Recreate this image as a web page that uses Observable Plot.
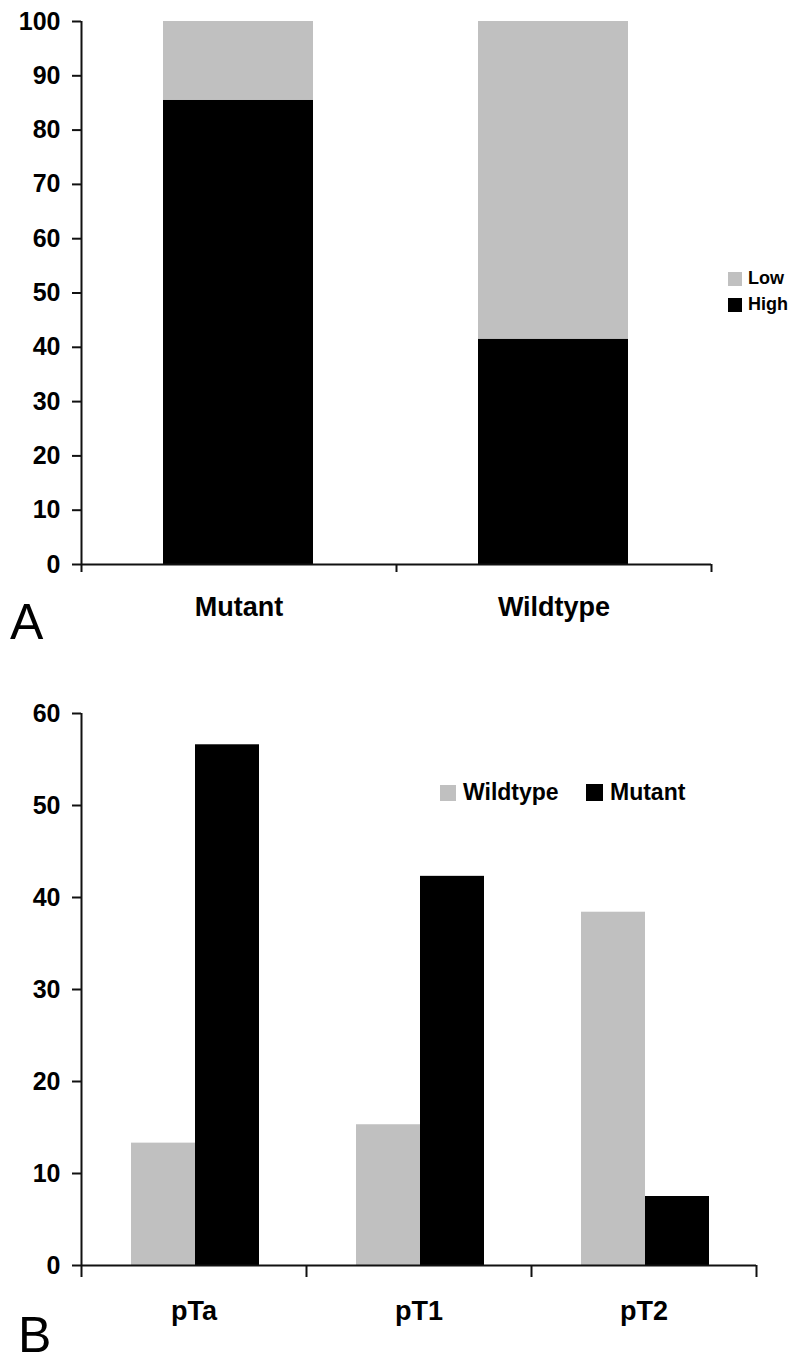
<!DOCTYPE html>
<html>
<head>
<meta charset="utf-8">
<script src="https://cdn.jsdelivr.net/npm/d3@7"></script>
<script src="https://cdn.jsdelivr.net/npm/@observablehq/plot@0.6"></script>
<style>
  body { margin: 0; background: #fff; }
  #wrap { position: relative; width: 800px; height: 1372px; font-family: "Liberation Sans", Arial, sans-serif; }
  #wrap svg { display: block; }
  .lg { position: absolute; display: flex; align-items: center; font-weight: bold; color: #000; white-space: nowrap; }
  .sw { display: inline-block; }
  .letter { position: absolute; font-size: 50px; line-height: 1; color: #000; }
</style>
</head>
<body>
<div id="wrap"></div>
<script>
// Panel A data (percent)
const catsA = ["Mutant", "Wildtype"];
const highA = [85.5, 41.5];
const lowA = [14.5, 58.5];
const ticksA = [0, 10, 20, 30, 40, 50, 60, 70, 80, 90, 100];
const seriesA = ["Low", "High"];

// Panel B data (percent)
const stagesB = ["pTa", "pT1", "pT2"];
const wildB = [13.3, 15.3, 38.4];
const mutB = [56.6, 42.3, 7.5];
const ticksB = [0, 10, 20, 30, 40, 50, 60];
const seriesB = ["Wildtype", "Mutant"];

const GREY = "#c0c0c0", BLACK = "#000000";
const font = {fontFamily: "'Liberation Sans', Arial, sans-serif", fontSize: "25px", fontWeight: "bold", background: "#fff", color: "#000", overflow: "visible"};

const rowsA = catsA.map((c, i) => ({i, cat: c, high: highA[i], low: lowA[i]}));
const rowsB = stagesB.map((s, i) => ({i, stage: s, wild: wildB[i], mut: mutB[i]}));

const wrap = document.getElementById("wrap");

const plotA = Plot.plot({
  width: 800, height: 660,
  marginLeft: 81, marginRight: 89, marginTop: 21, marginBottom: 96,
  style: font,
  x: {type: "linear", domain: [0, catsA.length]},
  y: {domain: [0, 100]},
  marks: [
    Plot.rectY(rowsA, {x1: d => d.i, x2: d => d.i + 1, y1: 0, y2: "high", fill: BLACK, insetLeft: 82, insetRight: 83}),
    Plot.rectY(rowsA, {x1: d => d.i, x2: d => d.i + 1, y1: "high", y2: d => d.high + d.low, fill: GREY, insetLeft: 82, insetRight: 83}),
    Plot.ruleY([0], {stroke: "#111", strokeWidth: 2}),
    Plot.ruleX([0], {y1: 0, y2: 100, stroke: "#111", strokeWidth: 2}),
    Plot.axisY({ticks: ticksA, tickSize: 9, tickPadding: 12, fontSize: 25, strokeWidth: 2, stroke: "#111", label: null}),
    Plot.axisX({ticks: d3.range(0, catsA.length + 1), tickSize: 8, tickFormat: () => "", strokeWidth: 2, stroke: "#111", label: null}),
    Plot.axisX({ticks: catsA.map((c, i) => i + 0.5), tickSize: 0, tickPadding: 32, fontSize: 27, tickFormat: d => catsA[Math.floor(d)], label: null})
  ]
});
wrap.appendChild(plotA);

const plotB = Plot.plot({
  width: 800, height: 712,
  marginLeft: 81, marginRight: 44, marginTop: 53, marginBottom: 107,
  style: font,
  x: {type: "linear", domain: [0, stagesB.length]},
  y: {domain: [0, 60]},
  marks: [
    Plot.rectY(rowsB, {x1: d => d.i, x2: d => d.i + 1, y1: 0, y2: "wild", fill: GREY, insetLeft: 50, insetRight: 111}),
    Plot.rectY(rowsB, {x1: d => d.i, x2: d => d.i + 1, y1: 0, y2: "mut", fill: BLACK, insetLeft: 114, insetRight: 47}),
    Plot.ruleY([0], {stroke: "#111", strokeWidth: 2}),
    Plot.ruleX([0], {y1: 0, y2: 60, stroke: "#111", strokeWidth: 2}),
    Plot.axisY({ticks: ticksB, tickSize: 9, tickPadding: 12, fontSize: 25, strokeWidth: 2, stroke: "#111", label: null}),
    Plot.axisX({ticks: d3.range(0, stagesB.length + 1), tickSize: 12, tickFormat: () => "", strokeWidth: 2, stroke: "#111", label: null}),
    Plot.axisX({ticks: stagesB.map((s, i) => i + 0.5), tickSize: 0, tickPadding: 35, fontSize: 27, tickFormat: d => stagesB[Math.floor(d)], label: null})
  ]
});
wrap.appendChild(plotB);

// Legends and panel letters (HTML)
function legendItem(label, color, left, top, size, sw, gap) {
  const el = document.createElement("div");
  el.className = "lg";
  el.style.left = left + "px";
  el.style.top = top + "px";
  el.style.fontSize = size + "px";
  const s = document.createElement("span");
  s.className = "sw";
  s.style.width = sw + "px"; s.style.height = sw + "px";
  s.style.background = color;
  s.style.marginRight = gap + "px";
  el.appendChild(s);
  el.appendChild(document.createTextNode(label));
  wrap.appendChild(el);
}
legendItem(seriesA[0], GREY, 728, 268, 18, 14, 6);
legendItem(seriesA[1], BLACK, 728, 294, 18, 14, 6);
legendItem(seriesB[0], GREY, 440, 779, 23, 16, 7);
legendItem(seriesB[1], BLACK, 586, 779, 23, 17, 7);

function letter(t, left, top) {
  const el = document.createElement("div");
  el.className = "letter";
  el.textContent = t;
  el.style.left = left + "px";
  el.style.top = top + "px";
  wrap.appendChild(el);
}
letter("A", 10, 597);
letter("B", 18, 1310);
</script>
</body>
</html>
